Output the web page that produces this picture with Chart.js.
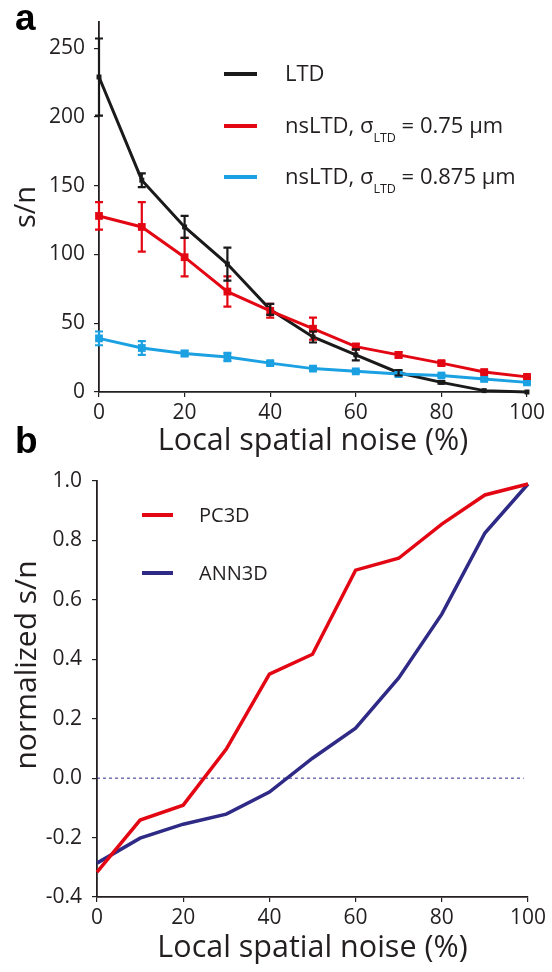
<!DOCTYPE html>
<html><head><meta charset="utf-8">
<script src="https://cdn.jsdelivr.net/npm/chart.js@4.4.1/dist/chart.umd.min.js"></script>
<style>
html,body{margin:0;padding:0;background:#fff;}
#wrap{position:relative;width:552px;height:972px;overflow:hidden;}
canvas{position:absolute;left:0;}
#ca{top:0;}
#cb{top:420px;}
</style></head><body>
<div id="wrap"><canvas id="ca" width="552" height="465"></canvas><canvas id="cb" width="552" height="552"></canvas></div>
<script>
// ---- data ----
const noise = [0, 10, 20, 30, 40, 50, 60, 70, 80, 90, 100];
const ltd = [229, 154, 120, 93, 60, 40, 27, 14, 7, 1, 0];
const ltdErr = [28, 5, 8, 12, 4, 4, 4, 2, 1, 0, 0];
const ns075 = [128, 120, 98, 73, 59, 46, 33, 27, 21, 14.5, 11];
const ns075Err = [10, 18, 14, 11, 5, 8, 2, 2, 1.5, 1, 1];
const ns0875 = [39, 32, 28, 25.5, 21, 17, 15, 13, 12, 9.5, 7];
const ns0875Err = [5, 5, 2, 3, 1.5, 1.5, 1, 1.5, 1, 1, 1];
const pc3d = [-0.316, -0.141, -0.091, 0.098, 0.35, 0.417, 0.70, 0.74, 0.855, 0.953, 0.99];
const ann3d = [-0.286, -0.202, -0.155, -0.121, -0.047, 0.067, 0.168, 0.337, 0.552, 0.825, 0.99];
const zeroLineX = [0, 99];
const zeroLineY = [0, 0];
const xTicks = [0, 20, 40, 60, 80, 100];
const yTicksA = [0, 50, 100, 150, 200, 250];
const yTicksB = [-0.4, -0.2, 0, 0.2, 0.4, 0.6, 0.8, 1.0];

const FONT = "'Open Sans', 'Noto Sans', sans-serif";
const INK = '#231f20';
const RED = '#e30613';
const BLUE = '#1ba1e2';
const BLACK = '#1a1a1a';
const NAVY = '#2e2a86';

function pts(xs, ys) { return xs.map((x, i) => ({ x: x, y: ys[i] })); }

const errPlugin = {
  id: 'errbars',
  afterDatasetsDraw(chart) {
    const ctx = chart.ctx, ys = chart.scales.y;
    chart.data.datasets.forEach((ds, i) => {
      if (!ds.errors) return;
      const meta = chart.getDatasetMeta(i);
      ctx.save();
      ctx.strokeStyle = ds.borderColor;
      ctx.lineWidth = 2.2;
      meta.data.forEach((pt, j) => {
        const e = ds.errors[j];
        if (!e) return;
        const v = ds.data[j].y;
        const y1 = ys.getPixelForValue(v + e), y2 = ys.getPixelForValue(v - e);
        const x = pt.x;
        ctx.beginPath();
        ctx.moveTo(x, y1); ctx.lineTo(x, y2);
        ctx.moveTo(x - 4, y1); ctx.lineTo(x + 4, y1);
        ctx.moveTo(x - 4, y2); ctx.lineTo(x + 4, y2);
        ctx.stroke();
      });
      ctx.restore();
    });
  }
};

function xAxis(h) {
  return {
    type: 'linear', min: 0, max: 100,
    afterBuildTicks: s => { s.ticks = xTicks.map(v => ({ value: v })); },
    afterFit: s => { s.height = h; },
    grid: { drawOnChartArea: false, drawTicks: true, tickLength: 5, color: INK, lineWidth: 1.2 },
    border: { display: true, color: INK, width: 1.8 },
    ticks: { color: INK, font: { family: FONT, size: 21 }, padding: 3, maxRotation: 0 },
    title: { display: true, text: 'Local spatial noise (%)', color: INK, font: { family: FONT, size: 30.5 }, padding: { top: 0, bottom: 5.5 } }
  };
}

// ---- chart a ----
const overlayA = {
  id: 'overlayA',
  afterDraw(chart) {
    const ctx = chart.ctx;
    ctx.save();
    ctx.fillStyle = '#000';
    ctx.font = "bold 37px 'Liberation Sans', Arial, sans-serif";
    ctx.textBaseline = 'alphabetic';
    ctx.fillText('a', 15, 30);
    // y title
    ctx.save();
    ctx.translate(27, (chart.chartArea.top + chart.chartArea.bottom) / 2);
    ctx.rotate(-Math.PI / 2);
    ctx.textAlign = 'center'; ctx.textBaseline = 'middle';
    ctx.fillStyle = INK;
    ctx.font = '29px ' + FONT;
    ctx.fillText('s/n', 0, 0);
    ctx.restore();
    // legend
    const items = [
      { c: BLACK, parts: [['LTD', 0]] },
      { c: RED, parts: [['nsLTD, σ', 0], ['LTD', 1], [' = 0.75 µm', 0]] },
      { c: BLUE, parts: [['nsLTD, σ', 0], ['LTD', 1], [' = 0.875 µm', 0]] }
    ];
    const ly = [74, 126, 177];
    items.forEach((it, k) => {
      ctx.strokeStyle = it.c; ctx.lineWidth = 4;
      ctx.beginPath(); ctx.moveTo(224, ly[k]); ctx.lineTo(257, ly[k]); ctx.stroke();
      let x = 285;
      ctx.fillStyle = INK;
      ctx.textAlign = 'left'; ctx.textBaseline = 'alphabetic';
      it.parts.forEach(p => {
        if (p[1]) { ctx.font = '12.5px ' + FONT; ctx.fillText(p[0], x, ly[k] + 16); }
        else { ctx.font = '22px ' + FONT; ctx.fillText(p[0], x, ly[k] + 7); }
        x += ctx.measureText(p[0]).width;
      });
    });
    ctx.restore();
  }
};

new Chart(document.getElementById('ca'), {
  type: 'line',
  data: {
    datasets: [
      { label: 'nsLTD, σLTD = 0.75 µm', data: pts(noise, ns075), errors: ns075Err, borderColor: RED, backgroundColor: RED, borderWidth: 3, pointStyle: 'rect', pointRadius: 5.5, pointBorderWidth: 0, order: 0, clip: false },
      { label: 'nsLTD, σLTD = 0.875 µm', data: pts(noise, ns0875), errors: ns0875Err, borderColor: BLUE, backgroundColor: BLUE, borderWidth: 3, pointStyle: 'rect', pointRadius: 5.5, pointBorderWidth: 0, order: 1, clip: false },
      { label: 'LTD', data: pts(noise, ltd), errors: ltdErr, borderColor: BLACK, backgroundColor: BLACK, borderWidth: 3, pointStyle: 'rect', pointRadius: 3.5, pointBorderWidth: 0, order: 2, clip: false }
    ]
  },
  options: {
    responsive: false, animation: false,
    layout: { padding: { top: 22, right: 25, left: 0, bottom: 0 } },
    plugins: { legend: { display: false }, tooltip: { enabled: false } },
    scales: {
      x: xAxis(73),
      y: {
        type: 'linear', min: 0, max: 269,
        afterBuildTicks: s => { s.ticks = yTicksA.map(v => ({ value: v })); },
        afterFit: s => { s.width = 99; },
        grid: { drawOnChartArea: false, drawTicks: true, tickLength: 5, color: INK, lineWidth: 1.2 },
        border: { display: true, color: INK, width: 1.8 },
        ticks: { color: INK, font: { family: FONT, size: 21 }, padding: 9 },
        title: { display: false }
      }
    }
  },
  plugins: [errPlugin, overlayA]
});

// ---- chart b ----
const overlayB = {
  id: 'overlayB',
  afterDraw(chart) {
    const ctx = chart.ctx;
    ctx.save();
    ctx.fillStyle = '#000';
    ctx.font = "bold 37px 'Liberation Sans', Arial, sans-serif";
    ctx.textBaseline = 'alphabetic';
    ctx.fillText('b', 15, 33);
    ctx.save();
    ctx.translate(27, 245);
    ctx.rotate(-Math.PI / 2);
    ctx.textAlign = 'center'; ctx.textBaseline = 'middle';
    ctx.fillStyle = INK;
    ctx.font = '30px ' + FONT;
    ctx.fillText('normalized s/n', 0, 0);
    ctx.restore();
    const items = [{ c: RED, t: 'PC3D', y: 95 }, { c: NAVY, t: 'ANN3D', y: 153 }];
    items.forEach(it => {
      ctx.strokeStyle = it.c; ctx.lineWidth = 4;
      ctx.beginPath(); ctx.moveTo(142, it.y); ctx.lineTo(173, it.y); ctx.stroke();
      ctx.fillStyle = INK; ctx.font = '20px ' + FONT;
      ctx.textAlign = 'left'; ctx.textBaseline = 'alphabetic';
      ctx.fillText(it.t, 199, it.y + 7);
    });
    ctx.restore();
  }
};

new Chart(document.getElementById('cb'), {
  type: 'line',
  data: {
    datasets: [
      { label: 'PC3D', data: pts(noise, pc3d), borderColor: RED, backgroundColor: RED, borderWidth: 3.5, pointRadius: 0, order: 0, clip: false },
      { label: 'ANN3D', data: pts(noise, ann3d), borderColor: NAVY, backgroundColor: NAVY, borderWidth: 3.5, pointRadius: 0, order: 1, clip: false },
      { label: 'zero', data: pts(zeroLineX, zeroLineY), borderColor: NAVY, borderWidth: 1, borderDash: [3, 3], pointRadius: 0, order: 2 }
    ]
  },
  options: {
    responsive: false, animation: false,
    layout: { padding: { top: 61, right: 24, left: 0, bottom: 0 } },
    plugins: { legend: { display: false }, tooltip: { enabled: false } },
    scales: {
      x: xAxis(75),
      y: {
        type: 'linear', min: -0.4, max: 1.0,
        afterBuildTicks: s => { s.ticks = yTicksB.map(v => ({ value: v })); },
        afterFit: s => { s.width = 97; },
        grid: { drawOnChartArea: false, drawTicks: true, tickLength: 5, color: INK, lineWidth: 1.2 },
        border: { display: true, color: INK, width: 1.8 },
        ticks: { color: INK, font: { family: FONT, size: 21 }, padding: 10, callback: v => v.toFixed(1) },
        title: { display: false }
      }
    }
  },
  plugins: [overlayB]
});
</script>
</body></html>
